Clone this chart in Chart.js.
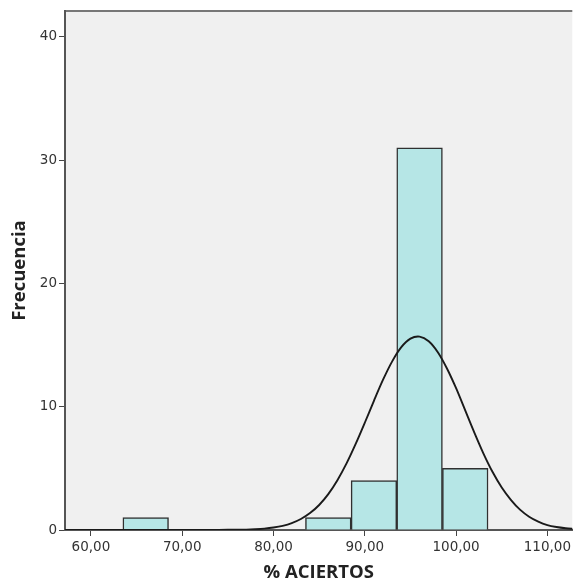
<!DOCTYPE html>
<html>
<head>
<meta charset="utf-8">
<script src="https://cdn.jsdelivr.net/npm/chart.js@4"></script>
<style>
  body { margin: 0; background: #fff; }
  canvas { display: block; }
</style>
</head>
<body>
<canvas id="hist" width="574" height="584"></canvas>
<script>
// histogram bins (centre of each 5-unit bin) and counts
const binCenters = [66, 86, 91, 96, 101];
const frequencies = [1, 1, 4, 31, 5];

// normal curve
const curveX = [57, 70, 74, 76, 77, 78, 79, 80, 81, 82, 83, 84, 85, 86, 87, 88, 89, 90, 91, 92, 93, 94, 95, 96,
                97, 98, 99, 100, 101, 102, 103, 104, 105, 106, 107, 108, 109, 110, 111, 112, 113];
const curveY = [0, 0, 0.01, 0.02, 0.03, 0.06, 0.11, 0.2, 0.34, 0.56, 0.89, 1.37, 2.03, 2.91, 4.04, 5.4, 6.98, 8.7,
                10.48, 12.19, 13.68, 14.83, 15.52, 15.69, 15.31, 14.42, 13.1, 11.5, 9.7, 7.9, 6.2, 4.7, 3.45,
                2.45, 1.65, 1.08, 0.68, 0.4, 0.24, 0.14, 0.08];

const xTicks = [60, 70, 80, 90, 100, 110];
const xTickLabels = ['60,00', '70,00', '80,00', '90,00', '100,00', '110,00'];
const yTicks = [0, 10, 20, 30, 40];

const plotFrame = {
    id: 'plotFrame',
    beforeDraw(chart) {
        const { ctx, chartArea: a } = chart;
        ctx.save();
        ctx.fillStyle = '#f0f0f0';
        ctx.fillRect(a.left, a.top, a.right - a.left, a.bottom - a.top);
        ctx.strokeStyle = '#777';
        ctx.lineWidth = 2;
        ctx.beginPath();
        ctx.moveTo(a.left, a.top);
        ctx.lineTo(a.right, a.top);
        ctx.stroke();
        ctx.restore();
    }
};

const ctx = document.getElementById('hist').getContext('2d');
new Chart(ctx, {
    type: 'bar',
    data: {
        datasets: [
            {
                type: 'line',
                data: curveX.map((x, i) => ({ x: x, y: curveY[i] })),
                borderColor: '#1a1a1a',
                borderWidth: 1.9,
                pointRadius: 0,
                tension: 0.3,
                order: 0
            },
            {
                type: 'bar',
                data: binCenters.map((x, i) => ({ x: x, y: frequencies[i] })),
                backgroundColor: 'rgb(182, 230, 230)',
                borderColor: '#303030',
                borderWidth: 1.5,
                barPercentage: 1,
                categoryPercentage: 1,
                order: 1
            }
        ]
    },
    options: {
        responsive: false,
        animation: false,
        layout: { padding: { top: 11, right: 0, left: 0, bottom: 0 } },
        plugins: {
            legend: { display: false },
            tooltip: { enabled: false }
        },
        scales: {
            x: {
                type: 'linear',
                offset: false,
                min: 57.16,
                max: 112.73,
                afterBuildTicks: s => { s.ticks = xTicks.map(v => ({ value: v })); },
                afterFit: s => { s.height = 54; },
                ticks: {
                    callback: (v) => xTickLabels[xTicks.indexOf(v)],
                    font: { family: 'DejaVu Sans', size: 13.5 },
                    color: '#333',
                    padding: 3,
                    maxRotation: 0
                },
                grid: { offset: false, drawOnChartArea: false, tickLength: 6, color: '#444' },
                border: { color: '#555', width: 2 },
                title: {
                    display: true,
                    text: '% ACIERTOS',
                    font: { family: 'Open Sans', size: 18.5, weight: 'bold' },
                    color: '#222',
                    padding: { top: 0, bottom: 0 }
                }
            },
            y: {
                min: 0,
                max: 42.1,
                afterBuildTicks: s => { s.ticks = yTicks.map(v => ({ value: v })); },
                afterFit: s => { s.width = 65; },
                ticks: {
                    font: { family: 'DejaVu Sans', size: 13.5 },
                    color: '#333',
                    padding: 2
                },
                grid: { drawOnChartArea: false, tickLength: 6, color: '#444' },
                border: { color: '#555', width: 2 },
                title: {
                    display: true,
                    text: 'Frecuencia',
                    font: { family: 'Open Sans', size: 18.5, weight: 'bold' },
                    color: '#222',
                    padding: { top: 9, bottom: 0 }
                }
            }
        }
    },
    plugins: [plotFrame]
});
</script>
</body>
</html>
